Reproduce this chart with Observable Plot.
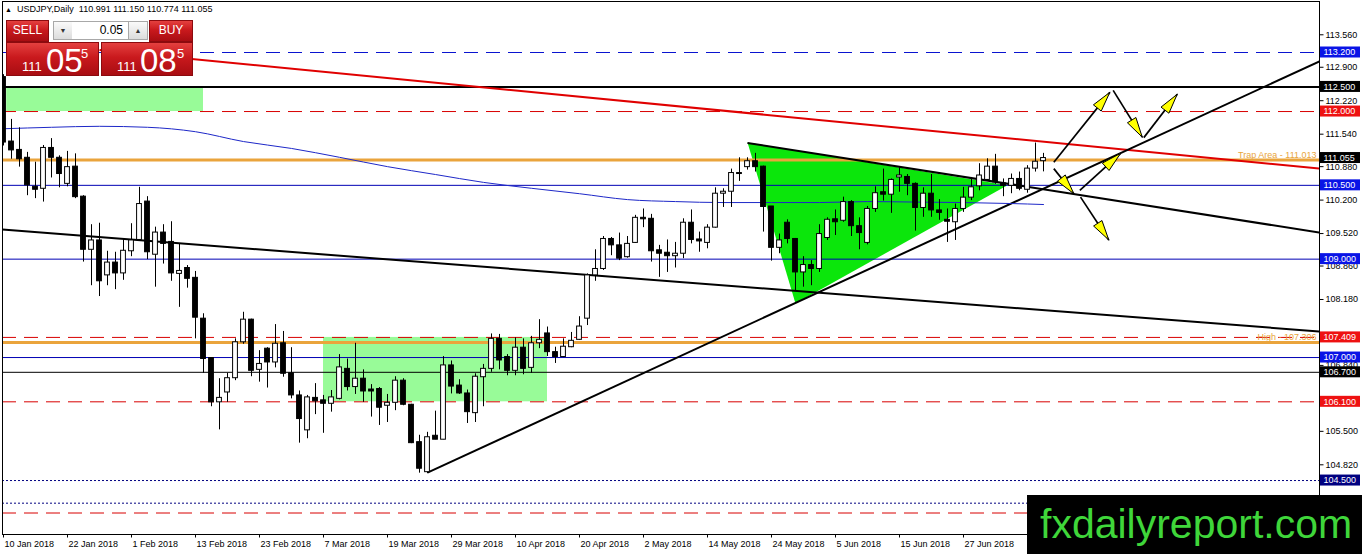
<!DOCTYPE html>
<html>
<head>
<meta charset="utf-8">
<script src="https://cdn.jsdelivr.net/npm/d3@7"></script>
<script src="https://cdn.jsdelivr.net/npm/@observablehq/plot@0.6"></script>
<style>
  body { margin: 0; background: #fff; }
  #wrap { position: relative; width: 1362px; height: 554px; overflow: hidden; font-family: "Liberation Sans", Arial, sans-serif; }
  #chart svg { display: block; }
  .abs { position: absolute; white-space: nowrap; }
  #hdr { left: 5px; top: 4px; font-size: 9px; line-height: 11px; color: #000; }
  .red { background: linear-gradient(to bottom, #e4403f 0%, #c9191d 45%, #a80d12 100%); border: 1px solid #8c0a0e; box-sizing: border-box; color: #fff; }
  .btn { font-size: 12px; text-align: center; line-height: 19px; }
  .spin { background: linear-gradient(#fafafa, #dcdcdc); border: 1px solid #a8a8a8; box-sizing: border-box; font-size: 7px; text-align: center; line-height: 17px; color: #333; }
  .lot { background: #fff; border-top: 1px solid #a8a8a8; border-bottom: 1px solid #a8a8a8; box-sizing: border-box; font-size: 12px; text-align: right; padding-right: 5px; line-height: 17px; color: #000; }
  .big span { position: absolute; line-height: 1; color: #fff; }
  #logo { left: 1027px; top: 495px; width: 335px; height: 59px; background: #000; }
  #logo span { position: absolute; left: 13px; top: 1px; font-size: 41px; line-height: 56px; color: #3fd63a; font-family: "Liberation Sans", Arial, sans-serif; }
</style>
</head>
<body>
<div id="wrap">
  <div id="chart"></div>
  <div id="hdr" class="abs"><span style="font-size:7px">&#9650;</span>&nbsp;&nbsp;USDJPY,Daily&nbsp;&nbsp;110.991 111.150 110.774 111.055</div>
  <div class="abs red btn" style="left:6px;top:20px;width:43px;height:22px">SELL</div>
  <div class="abs spin" style="left:53px;top:21px;width:20px;height:19px">&#9660;</div>
  <div class="abs lot" style="left:72px;top:21px;width:56px;height:19px">0.05</div>
  <div class="abs spin" style="left:128px;top:21px;width:20px;height:19px">&#9650;</div>
  <div class="abs red btn" style="left:149px;top:20px;width:44px;height:22px">BUY</div>
  <div class="abs red big" style="left:6px;top:42px;width:93px;height:34px">
    <span style="left:15px;top:17px;font-size:13px">111</span>
    <span style="left:39px;top:1px;font-size:33px">05</span>
    <span style="left:74px;top:4px;font-size:13px">5</span>
  </div>
  <div class="abs red big" style="left:101px;top:42px;width:92px;height:34px">
    <span style="left:15px;top:17px;font-size:13px">111</span>
    <span style="left:38px;top:1px;font-size:33px">08</span>
    <span style="left:75px;top:4px;font-size:13px">5</span>
  </div>
  <div id="logo" class="abs"><span>fxdailyreport.com</span></div>
</div>
<script>
// USDJPY daily bars, 10 Jan 2018 .. 11 Jul 2018 (bar index 0..130)
const opens = [112.70,111.39,111.22,111.06,110.47,110.43,111.26,111.06,110.53,110.88,
  110.27,109.19,109.38,108.67,108.93,108.71,109.16,109.39,110.17,109.09,
  109.54,109.35,108.70,108.82,108.62,107.79,106.99,106.09,106.29,106.58,
  107.31,107.77,106.75,107.18,106.90,107.29,106.68,106.23,105.52,106.18,
  106.13,106.06,106.16,106.77,106.40,106.57,106.35,106.36,106.02,106.08,
  106.53,106.04,105.28,104.67,105.41,105.33,106.84,106.43,106.27,105.87,
  106.60,106.77,107.38,107.01,106.73,107.20,106.79,107.29,107.49,107.11,
  107.01,107.21,107.36,107.79,108.67,108.80,109.41,109.28,109.04,109.33,
  109.84,109.82,109.18,109.13,109.06,109.11,109.74,109.40,109.33,109.64,
  110.33,110.37,110.73,110.87,110.99,110.88,110.07,109.23,109.74,109.41,
  108.73,108.88,108.80,109.43,109.81,109.78,110.16,109.67,109.33,110.02,
  110.36,110.31,110.66,110.67,110.53,110.04,110.33,109.99,109.80,109.75,
  110.02,110.25,110.48,110.61,110.88,110.54,110.49,110.63,110.41,110.84,
  110.991];
const highs = [112.75,111.84,111.67,111.17,110.97,111.31,111.45,111.10,111.19,111.14,
  110.29,109.70,109.73,109.16,109.14,109.41,109.72,110.46,110.27,109.65,
  109.70,109.76,109.31,108.87,108.75,107.89,106.99,106.57,106.68,107.38,
  107.92,107.78,107.14,107.20,107.67,107.53,107.20,106.32,106.23,106.47,
  106.23,106.33,107.06,106.97,107.29,106.75,106.45,106.39,106.25,106.61,
  106.57,106.05,105.42,105.48,105.91,107.02,106.93,106.55,106.34,106.67,
  106.86,107.48,107.47,107.06,107.40,107.38,107.43,107.77,107.62,107.21,
  107.38,107.51,107.83,108.70,109.19,109.46,109.44,109.53,109.46,109.89,
  110.02,109.91,109.28,109.39,109.34,109.82,110.00,109.55,109.70,110.45,
  110.43,110.83,111.06,111.06,111.15,110.89,110.07,109.51,109.80,109.42,
  109.05,108.97,109.70,109.84,110.00,110.26,110.19,109.84,110.07,110.47,
  110.83,110.63,110.86,110.72,110.55,110.45,110.72,110.21,110.02,110.12,
  110.46,110.66,110.94,111.04,111.13,110.63,110.73,110.77,110.90,111.36,
  111.150];
const lows = [111.30,111.03,110.87,110.29,110.23,110.16,110.65,110.45,110.47,110.23,
  108.94,108.46,108.24,108.46,108.38,108.57,109.05,109.38,108.99,108.43,
  108.90,108.55,108.02,108.41,107.38,106.68,106.00,105.53,106.09,106.53,
  107.27,106.61,106.50,106.38,106.79,106.60,106.16,105.26,105.35,105.84,
  105.46,105.89,106.14,106.32,106.25,106.09,105.79,105.62,105.68,105.92,
  106.02,105.25,104.65,104.64,105.33,105.33,106.26,106.25,105.66,105.68,
  106.00,106.70,106.75,106.63,106.63,106.65,106.68,107.18,107.02,106.88,
  107.00,107.20,107.35,107.65,108.55,108.77,109.07,108.97,109.02,109.32,
  109.64,108.94,108.63,108.73,108.82,109.01,109.31,109.14,109.21,109.63,
  110.05,110.05,110.58,110.81,110.77,109.55,108.96,109.11,109.31,108.35,
  108.43,108.46,108.73,109.38,109.48,109.75,109.46,109.19,109.29,109.95,
  110.18,109.93,110.36,110.29,109.57,109.85,109.85,109.79,109.34,109.38,
  109.95,110.19,110.39,110.59,110.52,110.27,110.33,110.39,110.34,110.77,
  110.774];
const closes = [111.37,111.21,111.03,110.50,110.41,111.26,111.06,110.73,110.87,110.26,
  109.19,109.38,108.55,108.93,108.71,109.17,109.38,110.12,109.14,109.54,
  109.31,108.71,108.76,108.60,107.81,106.97,106.09,106.18,106.58,107.31,
  107.77,106.73,106.87,106.90,107.28,106.67,106.23,105.75,106.19,106.11,
  106.06,106.19,106.80,106.40,106.57,106.31,106.31,105.98,106.08,106.53,
  106.04,105.26,104.74,105.38,105.33,106.84,106.41,106.27,105.89,106.61,
  106.77,107.38,106.94,106.73,107.20,106.77,107.29,107.36,107.11,107.01,
  107.22,107.34,107.63,108.67,108.80,109.41,109.28,109.01,109.31,109.84,
  109.81,109.16,109.11,109.06,109.11,109.74,109.39,109.36,109.64,110.33,
  110.37,110.75,110.75,110.99,110.87,110.06,109.23,109.38,109.41,108.73,
  108.88,108.80,109.51,109.80,109.75,110.16,109.67,109.53,110.02,110.34,
  110.31,110.61,110.70,110.53,110.04,110.33,109.99,109.94,109.76,110.02,
  110.25,110.46,110.70,110.88,110.56,110.49,110.63,110.43,110.84,110.98,
  111.055];

// time axis labels
const dateBars = [0,8,16,24,32,40,48,56,64,72,80,88,96,104,112,120];
const dateLabels = ["10 Jan 2018","22 Jan 2018","1 Feb 2018","13 Feb 2018","23 Feb 2018","7 Mar 2018",
  "19 Mar 2018","29 Mar 2018","10 Apr 2018","20 Apr 2018","2 May 2018","14 May 2018",
  "24 May 2018","5 Jun 2018","15 Jun 2018","27 Jun 2018"];

// price scale ticks (those fully hidden under a price tag are left out)
const priceTicks = [113.56,112.90,112.22,111.54,110.88,110.20,109.52,108.86,108.18,
  106.84,105.50,104.82,104.14];

// moving average (read at a few bars)
const maBars = [0,6,12,18,24,30,36,42,48,54,60,66,72,78,84,90,96,102,108,114,120,126,130];
const maValues = [111.65,111.68,111.70,111.68,111.59,111.39,111.25,111.07,110.88,110.72,110.56,
  110.44,110.33,110.21,110.17,110.15,110.15,110.15,110.17,110.16,110.15,110.13,110.11];

// horizontal levels
const blueDashed = [113.2];
const blackThick = [112.5];
const redDashed = [112.0, 107.409, 106.1, 103.84];
const orangeLevels = [111.013, 107.306];
const orangeNotes = ["Trap Area - 111.013", "High - 107.306"];
const blueSolid = [110.5, 109.0, 107.0];
const blackThin = [106.7];
const navyDotted = [104.5, 104.04];

// price labels on the scale
const tagPrices = [113.2, 112.5, 112.0, 111.055, 110.5, 109.0, 107.409, 107.0, 106.7, 106.1, 104.5];
const tagKinds = ["blue","black","red","black","blue","blue","red","blue","black","red","navy"];

// drawn objects: [bar1, price1, bar2, price2]
const redTrend = [[12, 113.25, 164.5, 110.84]];
const blackTrends = [[-0.125, 109.60, 164.5, 107.53], [53, 104.66, 164.5, 113.02], [93, 111.36, 164.5, 109.54]];
const zones = [[0.4, 112.5, 25, 112.0], [40, 107.409, 68, 106.1]];
const triangleBars = [93, 99, 125.5];
const trianglePrices = [111.37, 108.10, 110.50];
const arrows = [[131.29,110.97,138.29,112.39],[138.71,112.43,142.34,111.48],[142.54,111.47,146.71,112.35],
  [131.29,110.84,133.79,110.33],[134.54,110.40,139.63,111.15],[134.63,110.26,138.16,109.39]];

const W = 1362, H = 554, ML = 2, MR = 43, MT = 1, MB = 20;
const X0 = -0.125, X1 = 164.5, Y0 = 103.4033, Y1 = 114.2366;
const kx = (W - MR - ML) / (X1 - X0);   // px per bar
const ky = (H - MB - MT) / (Y1 - Y0);   // px per yen

const candles = opens.map((o, i) => ({i, o, h: highs[i], l: lows[i], c: closes[i]}));
const ma = maBars.map((b, i) => ({b, v: maValues[i]}));
const tri = triangleBars.map((b, i) => ({b, p: trianglePrices[i]}));
tri.push(tri[0]);
const tags = tagPrices.map((p, i) => ({p, kind: tagKinds[i]}));
const tagColor = {blue: "#0a14e6", black: "#000000", red: "#ee1111", navy: "#000080"};
const fmt = d3.format(".3f");

// yellow arrow heads, built in pixel space then mapped back to bars/prices
const heads = arrows.flatMap(([b1, p1, b2, p2], k) => {
  const dx = (b2 - b1) * kx, dy = -(p2 - p1) * ky;
  const len = Math.hypot(dx, dy), ux = dx / len, uy = dy / len;
  const L = 20, w = 5;
  const bx = -ux * L, by = -uy * L;
  return [[0, 0], [bx - uy * w, by + ux * w], [bx + uy * w, by - ux * w], [0, 0]]
    .map(([qx, qy]) => ({k, b: b2 + qx / kx, p: p2 - qy / ky}));
});

const bull = candles.filter(d => d.c >= d.o);
const bear = candles.filter(d => d.c < d.o);
const bodyHalf = 0.3;

const chart = Plot.plot({
  width: W, height: H,
  marginLeft: ML, marginRight: MR, marginTop: MT, marginBottom: MB,
  x: {domain: [X0, X1], axis: null},
  y: {domain: [Y0, Y1], axis: null},
  color: {type: "identity"},
  style: {fontFamily: "Liberation Sans, Arial, sans-serif", fontSize: "9px", background: "#fff", overflow: "visible"},
  marks: [
    Plot.rect(zones, {x1: d => d[0], y1: d => d[1], x2: d => d[2], y2: d => d[3], fill: "#98fb98"}),
    Plot.line(tri, {x: "b", y: "p", fill: "#0be60b", stroke: "none"}),

    Plot.ruleY(blueDashed, {stroke: "#0a14d0", strokeWidth: 1, strokeDasharray: "14,8"}),
    Plot.ruleY(blackThick, {stroke: "#000", strokeWidth: 2}),
    Plot.ruleY(redDashed, {stroke: "#d80000", strokeWidth: 1, strokeDasharray: "14,8"}),
    Plot.ruleY(blueSolid, {stroke: "#0000b4", strokeWidth: 1}),
    Plot.ruleY(blackThin, {stroke: "#000", strokeWidth: 1}),
    Plot.ruleY(navyDotted, {stroke: "#000080", strokeWidth: 1, strokeDasharray: "2,2"}),
    Plot.ruleY(orangeLevels, {stroke: "#eaa43c", strokeWidth: 3}),

    Plot.link(redTrend, {x1: d => d[0], y1: d => d[1], x2: d => d[2], y2: d => d[3], stroke: "#e00000", strokeWidth: 2, clip: true}),
    Plot.link(blackTrends, {x1: d => d[0], y1: d => d[1], x2: d => d[2], y2: d => d[3], stroke: "#000", strokeWidth: 2, clip: true}),
    Plot.line(ma, {x: "b", y: "v", stroke: "#1e28c8", strokeWidth: 1, curve: "monotone-x"}),

    Plot.ruleX(candles, {x: "i", y1: "l", y2: "h", stroke: "#000", strokeWidth: 1, clip: true}),
    Plot.rect(bear, {x1: d => d.i - bodyHalf, x2: d => d.i + bodyHalf, y1: "o", y2: "c", fill: "#000", stroke: "#000", clip: true}),
    Plot.rect(bull, {x1: d => d.i - bodyHalf, x2: d => d.i + bodyHalf, y1: "o", y2: "c", fill: "#fff", stroke: "#000", clip: true}),

    Plot.text(orangeLevels, {x: () => X1, y: d => d, text: (d, i) => orangeNotes[i], textAnchor: "end", lineAnchor: "bottom", dx: -3, dy: -2, fill: "#e8a53c", fontSize: 9}),

    Plot.link(arrows, {x1: d => d[0], y1: d => d[1], x2: d => d[2], y2: d => d[3], stroke: "#000", strokeWidth: 1.7}),
    Plot.line(heads, {x: "b", y: "p", z: "k", fill: "#ffff00", stroke: "#000", strokeWidth: 1, curve: "linear"}),

    Plot.frame({stroke: "#000"}),

    // time axis
    Plot.link(dateBars, {x1: d => d, x2: d => d, y1: () => Y0, y2: () => Y0 - 3 / ky, stroke: "#000"}),
    Plot.text(dateBars, {x: d => d, y: () => Y0, text: (d, i) => dateLabels[i], textAnchor: "start", dx: 1, dy: 10, fill: "#000", fontSize: 9}),

    // price axis
    Plot.link(priceTicks, {x1: () => X1, x2: () => X1 + 4 / kx, y1: d => d, y2: d => d, stroke: "#000"}),
    Plot.text(priceTicks, {x: () => X1, y: d => d, text: d => fmt(d), textAnchor: "start", dx: 6, fill: "#000", fontSize: 9}),
    Plot.rect(tags, {x1: () => X1 + 1 / kx, x2: () => X1 + 41 / kx, y1: d => d.p - 5.5 / ky, y2: d => d.p + 5.5 / ky, fill: d => tagColor[d.kind]}),
    Plot.text(tags, {x: () => X1, y: "p", text: d => fmt(d.p), textAnchor: "start", dx: 4, fill: "#fff", fontSize: 9})
  ]
});

document.getElementById("chart").append(chart);
</script>
</body>
</html>
